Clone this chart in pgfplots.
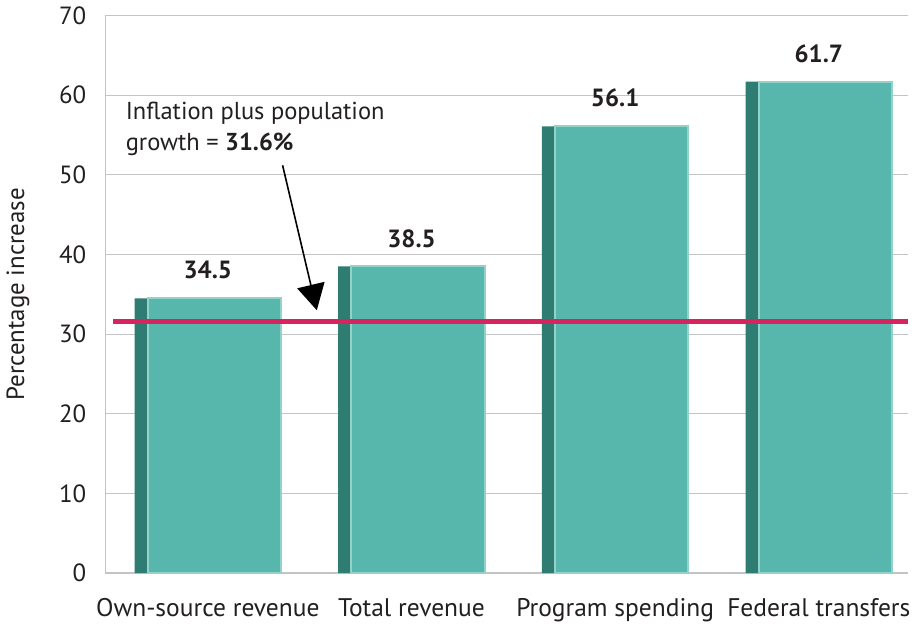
\documentclass[border=0pt]{standalone}
\usepackage{pgfplots}
\pgfplotsset{compat=1.18}
\usepackage{fontspec}
\setmainfont{PT Sans}
\usetikzlibrary{arrows.meta}
\definecolor{barc}{HTML}{58B7AC}
\definecolor{bardark}{HTML}{2E7C72}
\definecolor{barlight}{HTML}{92D2C9}
\definecolor{gridc}{HTML}{C4C4C4}
\definecolor{redl}{HTML}{D6245F}
\definecolor{txt}{HTML}{231F20}
\begin{document}
\begin{tikzpicture}
\begin{axis}[
  scale only axis,
  width=403.5pt, height=280pt,
  xmin=-0.504, xmax=3.44,
  ymin=0, ymax=70,
  ytick={0,10,...,70},
  xtick={0,1,2,3},
  xticklabels={},
  axis x line=none,
  axis y line*=left,
  y axis line style={draw=gridc, line width=0.6pt},
  ymajorgrids,
  grid style={draw=gridc, line width=0.6pt},
  major tick length=0pt,
  tick label style={font=\fontsize{12.5}{14}\selectfont, text=txt},
  yticklabel style={xshift=-6pt},
  /pgf/number format/assume math mode=true,
  ylabel={Percentage increase},
  ylabel style={font=\fontsize{12.5}{14}\selectfont, text=txt, yshift=8pt},
  clip=false,
]
\addplot[ybar, bar width=0.72, fill=bardark, draw=none] coordinates {(0,34.5) (1,38.5) (2,56.1) (3,61.7)};
\addplot[ybar, bar width=0.655, bar shift=0.0325, fill=barc, draw=barlight, line width=1pt] coordinates {(0,34.5) (1,38.5) (2,56.1) (3,61.7)};
\addplot[redl, line width=2.6pt] coordinates {(-0.465,31.6) (3.44,31.6)};
\foreach \x/\v in {0/34.5,1/38.5,2/56.1,3/61.7} {
  \edef\tmp{\noexpand\node[font=\noexpand\fontsize{12.5}{14}\noexpand\selectfont\noexpand\bfseries, text=txt, anchor=south] at (axis cs:\x,\v) [yshift=6pt] {\v};}
  \tmp
}
\foreach \x/\l in {0/Own-source revenue,1/Total revenue,2/Program spending,3/Federal transfers} {
  \edef\tmp{\noexpand\node[font=\noexpand\fontsize{12.8}{14}\noexpand\selectfont, text=txt, anchor=base] at (axis cs:\x,0) [yshift=-22pt] {\l};}
  \tmp
}
\node[anchor=north west, align=left, font=\fontsize{12.3}{15.5}\selectfont, text=txt, inner sep=0pt] at (axis cs:-0.405,59.2) {Inflation plus population\\growth = \textbf{31.6\%}};
\draw[-{Triangle[length=13pt,width=14pt]}, line width=0.8pt, black] (axis cs:0.367,51.2) -- (axis cs:0.535,33.0);
\end{axis}
\end{tikzpicture}
\end{document}
